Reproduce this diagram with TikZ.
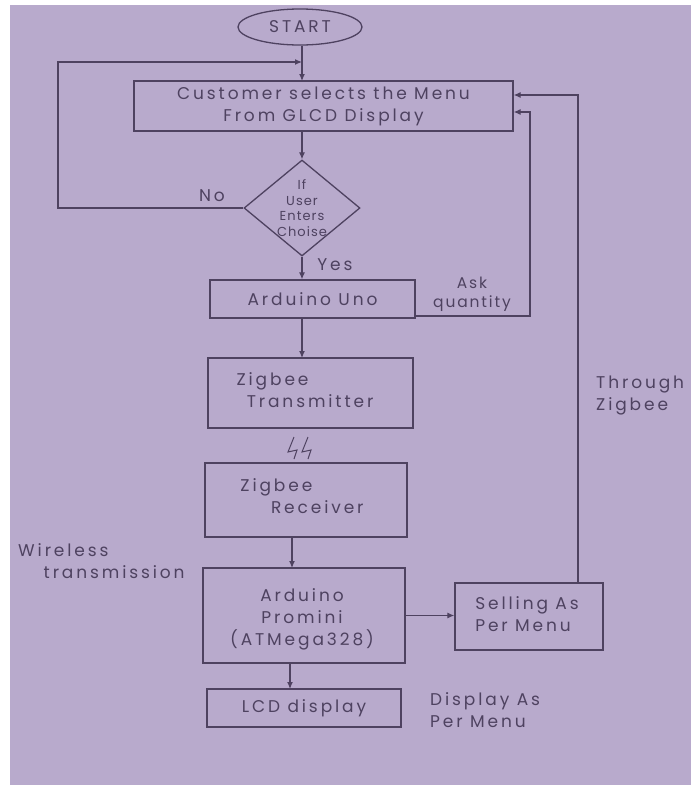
\documentclass[tikz,border=0pt]{standalone}
\usepackage{fontspec}
\setmainfont{Poppins}
\usetikzlibrary{shapes.geometric,arrows.meta}
\definecolor{paper}{RGB}{184,170,204}
\definecolor{ink}{RGB}{78,66,96}
\tikzset{
  box/.style={draw=ink, line width=1.3pt, rectangle, inner sep=0pt},
  txt/.style={text=ink, font=\fontsize{17}{22}\selectfont\addfontfeatures{LetterSpace=17}, inner sep=0pt},
  smalltxt/.style={text=ink, font=\fontsize{15.5}{19}\selectfont\addfontfeatures{LetterSpace=12}, inner sep=0pt},
  arr/.style={draw=ink, line width=1.2pt, -{Latex[length=7pt,width=6pt]}},
  ln/.style={draw=ink, line width=1.2pt},
}
\begin{document}
\begin{tikzpicture}[x=1pt,y=-1pt]
\fill[white] (0,0) rectangle (691,785);
\fill[paper] (10,5) rectangle (691,785);
\useasboundingbox (0,0) rectangle (691,785);

\node[draw=ink, line width=1.3pt, ellipse, minimum width=124pt, minimum height=36pt, txt] (start) at (300,27) {START};
\node[box, minimum width=379pt, minimum height=50pt] (cust) at (323.5,106) {};
\node[txt, align=center] (custt) at (cust) {Customer selects the Menu\\From GLCD Display};
\node[draw=ink, line width=1.3pt, diamond, minimum width=116pt, minimum height=96pt, inner sep=0pt] (dia) at (302,208) {};
\node[txt, align=center, font=\fontsize{13}{15.5}\selectfont\addfontfeatures{LetterSpace=8}] (diat) at (dia) {If\\User\\Enters\\Choise};
\node[box, minimum width=205pt, minimum height=38pt] (uno) at (312.5,299) {};
\node[txt] (unot) at (uno) {Arduino Uno};
\node[box, minimum width=205pt, minimum height=70pt] (tx) at (310.5,393) {};
\node[txt, align=left] (txt1) at (305,390) {Zigbee\\\hspace{0.6em}Transmitter};
\node[box, minimum width=202pt, minimum height=74pt] (rx) at (306,500) {};
\node[txt, align=left] (rxt) at (302,496) {Zigbee\\\hspace{1.8em}Receiver};
\node[box, minimum width=202pt, minimum height=95pt] (pro) at (304,615.5) {};
\node[txt, align=center] (prot) at (302,619) {Arduino\\Promini\\(ATMega328)};
\node[box, minimum width=148pt, minimum height=67pt] (sell) at (529,616.5) {};
\node[txt, align=left] (sellt) at (527,614) {Selling As\\Per Menu};
\node[box, minimum width=194pt, minimum height=38pt] (lcd) at (304,708) {};
\node[txt] (lcdt) at (lcd) {LCD display};

% labels
\node[txt] (no) at (212,196) {No};
\node[txt] (yes) at (335,265) {Yes};
\node[smalltxt, align=center] (ask) at (472,294) {Ask\\quantity};
\node[txt, align=left, anchor=west] (thr) at (596,395) {Through\\Zigbee};
\node[txt, align=left, anchor=west] (wl) at (18,561) {Wireless\\\hspace{1.5em}transmission};
\node[txt, align=left, anchor=west] (dpm) at (430,710) {Display As\\Per Menu};

% connectors
\draw[arr] (start.south -| 302,0) -- (302,81);
\coordinate (nl) at (58,208);
\coordinate (nt) at (58,62);
\coordinate (nj) at (302,62);
\draw[arr] (dia.west) -- (nl) -- (nt) -- (nj);
\draw[arr] (dia.north |- cust.south) -- (dia.north);
\draw[arr] (dia.south) -- (dia.south |- uno.north);
\coordinate (q0) at (415,316);
\coordinate (q1) at (530,316);
\coordinate (q2) at (530,112);
\draw[arr] (q0) -- (q1) -- (q2) -- (cust.east |- q2);
\draw[arr] (302,318) -- (302,358);
\draw[arr] (292,537) -- (292,568);
\draw[arr] (pro.east) -- (pro.east -| sell.west);
\coordinate (z1) at (578,583);
\coordinate (z2) at (578,95);
\draw[arr] (z1) -- (z2) -- (cust.east |- z2);
\draw[arr] (290,663) -- (290,689);

% wireless symbol
\draw[ln, line width=1pt] (294,437) -- (288,452) -- (297,450) -- (294,459);
\draw[ln, line width=1pt] (308,437) -- (302,452) -- (311,450) -- (308,459);
\end{tikzpicture}
\end{document}
